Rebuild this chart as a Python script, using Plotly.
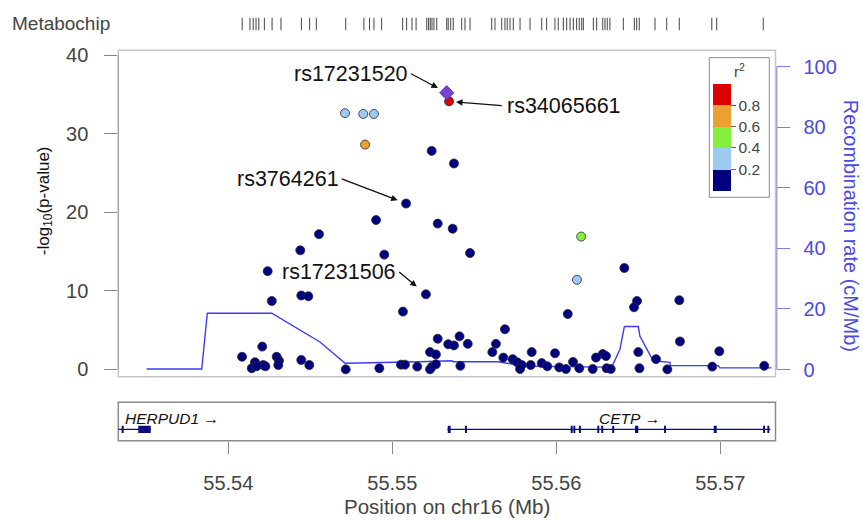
import plotly.graph_objects as go

W, H = 863, 520

# ---------------- data ----------------
# associated SNPs: position (Mb), -log10(p), LD r^2 with index SNP
snp_pos = [55.55240, 55.55376, 55.55084, 55.54901, 55.55277, 55.55368, 55.54553, 55.54439,
           55.54951, 55.55474, 55.54240, 55.56415, 55.55205, 55.54445, 55.54488, 55.54265,
           55.56492, 55.56474, 55.56750, 55.55065, 55.56070, 55.55687, 55.55277, 55.55410,
           55.55341, 55.55376, 55.55460, 55.55632, 55.56754, 55.54207, 55.55230, 55.55266,
           55.55610, 55.55850, 55.55992, 55.56283, 55.56303, 55.56242, 55.56500, 55.56994,
           55.56608, 55.54084, 55.54295, 55.54309, 55.54445, 55.54494, 55.54163, 55.54213,
           55.54143, 55.54173, 55.54226, 55.54305, 55.54716, 55.54921, 55.55053, 55.55077,
           55.55152, 55.55240, 55.55230, 55.55266, 55.55415, 55.55677, 55.55734, 55.55762,
           55.55789, 55.55779, 55.55844, 55.55911, 55.55945, 55.56018, 55.56059, 55.56102,
           55.56140, 55.56222, 55.56307, 55.56332, 55.56507, 55.56677, 55.56951, 55.57268,
           55.54712, 55.54823, 55.54888, 55.56126, 55.56152, 55.54834, 55.55346]
snp_logp = [27.8, 26.2, 21.1, 19.0, 18.55, 17.9, 17.2, 15.15,
            14.6, 14.8, 12.5, 12.9, 9.55, 9.4, 9.3, 8.7,
            8.7, 7.9, 8.8, 7.35, 7.05, 5.1, 3.9, 4.2,
            3.2, 3.05, 3.25, 3.25, 3.55, 2.9, 2.2, 1.9,
            2.2, 2.2, 2.05, 1.95, 1.7, 1.5, 2.2, 2.3,
            1.3, 1.6, 1.6, 1.1, 1.2, 0.55, 0.9, 0.55,
            0.15, 0.4, 0.4, 0.55, 0.0, 0.15, 0.6, 0.6,
            0.35, 0.3, 0.0, 0.65, 0.45, 1.5, 1.3, 0.9,
            0.55, 0.05, 0.55, 0.8, 0.4, 0.25, 0.05, 0.95,
            0.15, 0.05, 0.15, 0.05, 0.15, 0.0, 0.35, 0.45,
            32.6, 32.5, 32.5, 11.4, 16.9, 28.6, 34.1]
snp_r2 = [0.05] * 80 + [0.3, 0.3, 0.3, 0.3, 0.5, 0.7, 0.9]

# index SNP
index_pos = [55.55332]
index_logp = [35.2]

# recombination rate (cM/Mb)
rec_pos = [55.53502, 55.53838, 55.53872, 55.54265, 55.54559, 55.54712, 55.55169, 55.55362,
           55.55372, 55.55646, 55.55728, 55.55779, 55.56287, 55.56338, 55.56388, 55.56415,
           55.56500, 55.56510, 55.56591, 55.56693, 55.56695, 55.56988, 55.56998, 55.57313]
rec_rate = [0.2, 0.2, 18.6, 18.6, 9.1, 2.1, 2.6, 2.9,
            2.6, 2.6, 1.85, 1.2, 0.8, 0.8, 6.7, 14.2,
            14.2, 11.0, 2.9, 2.4, 1.3, 1.3, 0.55, 0.55]

# Metabochip SNP positions (rug)
rug_pos = [55.54085, 55.54132, 55.54152, 55.54169, 55.54186, 55.54220, 55.54267, 55.54321,
           55.54446, 55.54496, 55.54537, 55.54716, 55.54827, 55.54861, 55.54888, 55.54935,
           55.55063, 55.55087, 55.55120, 55.55145, 55.55210, 55.55221, 55.55232, 55.55242,
           55.55254, 55.55271, 55.55332, 55.55341, 55.55356, 55.55372, 55.55423, 55.55443,
           55.55474, 55.55606, 55.55626, 55.55667, 55.55687, 55.55701, 55.55718, 55.55738,
           55.55779, 55.55840, 55.55911, 55.55941, 55.55992, 55.56012, 55.56043, 55.56063,
           55.56084, 55.56104, 55.56124, 55.56140, 55.56155, 55.56165, 55.56226, 55.56246,
           55.56283, 55.56297, 55.56311, 55.56327, 55.56409, 55.56476, 55.56490, 55.56506,
           55.56602, 55.56673, 55.56750, 55.56948, 55.56978, 55.57262]

# genes
gene_names = ["HERPUD1", "CETP"]
gene_start = [55.53300, 55.55336]
gene_end = [55.53527, 55.57305]
gene_label_x = [55.53356, 55.56247]
exon_start = [55.53350, 55.53451,
              55.55338, 55.55443, 55.56088, 55.56104, 55.56138, 55.56250, 55.56274,
              55.56341, 55.56480, 55.56657, 55.56960, 55.57261, 55.57287]
exon_end = [55.53362, 55.53527,
            55.55356, 55.55455, 55.56100, 55.56116, 55.56150, 55.56262, 55.56286,
            55.56353, 55.56500, 55.56669, 55.56978, 55.57273, 55.57299]

# labelled SNPs
label_names = ["rs17231520", "rs34065661", "rs3764261", "rs17231506"]
label_pos = [index_pos[0], snp_pos[86], snp_pos[2], snp_pos[12]]
label_logp = [index_logp[0], snp_logp[86], snp_logp[2], snp_logp[12]]

x_ticks = [55.54, 55.55, 55.56, 55.57]
y_ticks = [0, 10, 20, 30, 40]
rec_ticks = [0, 20, 40, 60, 80, 100]
r2_ticks = [0.2, 0.4, 0.6, 0.8]
r2_colors = ["#000080", "#9dcaf0", "#86ef3c", "#eca031", "#dd0000"]

# ---------------- style helpers ----------------
FONT = "Liberation Sans, Arial, Helvetica, sans-serif"
GREY_TXT = "#444444"
BLUE_TXT = "#4b4bdc"
BLUE_TICK = "#7d7de8"
BLUE_LINE = "#3c3cf2"
NAVY = "#0c0c80"


def fx(p):
    return p / W


def fy(p):
    return 1 - p / H


cs = []
for i, c in enumerate(r2_colors):
    cs.append([i / 5, c])
    cs.append([(i + 1) / 5, c])

fig = go.Figure()

# recombination line (base subplot, below points)
fig.add_trace(go.Scatter(x=rec_pos, y=rec_rate, xaxis="x", yaxis="y2", mode="lines",
                         line=dict(color=BLUE_LINE, width=1.4), hoverinfo="skip",
                         showlegend=False))

# gene lines
for s, e in zip(gene_start, gene_end):
    fig.add_trace(go.Scatter(x=[s, e], y=[0, 0], xaxis="x", yaxis="y3", mode="lines",
                             line=dict(color=NAVY, width=1.2), hoverinfo="skip",
                             showlegend=False))

# rug
rx, ry = [], []
for p in rug_pos:
    rx += [p, p, None]
    ry += [0, 1, None]
fig.add_trace(go.Scatter(x=rx, y=ry, xaxis="x", yaxis="y4", mode="lines",
                         line=dict(color="#555555", width=1.1), hoverinfo="skip",
                         showlegend=False))

# SNPs
fig.add_trace(go.Scatter(
    x=snp_pos, y=snp_logp, xaxis="x", yaxis="y", mode="markers", showlegend=False,
    marker=dict(size=9, color=snp_r2, colorscale=cs, cmin=0, cmax=1,
                line=dict(color="#2a2a3a", width=0.8),
                showscale=True,
                colorbar=dict(x=fx(712.7), xanchor="left", y=fy(79.3), yanchor="top",
                              len=107.4, lenmode="pixels", thickness=18,
                              thicknessmode="pixels", xpad=0, ypad=0, outlinewidth=0,
                              tickvals=r2_ticks, ticktext=[f"{t:.1f}" for t in r2_ticks],
                              ticks="outside", ticklen=5, tickcolor="#666",
                              tickfont=dict(size=15.5, color=GREY_TXT, family=FONT),
                              borderwidth=0, bgcolor="rgba(0,0,0,0)"))))

# index SNP
fig.add_trace(go.Scatter(x=index_pos, y=index_logp, xaxis="x", yaxis="y", mode="markers",
                         showlegend=False,
                         marker=dict(symbol="diamond", size=11, color="#7b40d6",
                                     line=dict(color="#4d2a90", width=0.8))))

shapes = []
# main box
shapes.append(dict(type="rect", xref="x domain", yref="y2 domain", x0=0, x1=1, y0=0, y1=1,
                   line=dict(color="#c6c6c6", width=1.5), layer="below"))
# left axis line
shapes.append(dict(type="line", xref="x domain", yref="y", x0=0, x1=0, y0=0, y1=40,
                   line=dict(color="#9a9a9a", width=1)))
# right axis line
shapes.append(dict(type="line", xref="x domain", yref="y2", x0=1.002, x1=1.002, y0=0, y1=100,
                   line=dict(color=BLUE_TICK, width=1)))
# gene box
shapes.append(dict(type="rect", xref="x domain", yref="y3 domain", x0=0, x1=1, y0=0, y1=1,
                   line=dict(color="#8a8a8a", width=1.5), layer="below"))
# exons
for s, e in zip(exon_start, exon_end):
    shapes.append(dict(type="rect", xref="x", yref="y3", x0=s, x1=e, y0=-0.38, y1=0.38,
                       fillcolor=NAVY, line=dict(width=0)))
# legend box
shapes.append(dict(type="rect", xref="paper", yref="paper", x0=fx(709.3), x1=fx(769.3),
                   y0=fy(195), y1=fy(52.7), fillcolor="white",
                   line=dict(color="#8a8a8a", width=1), layer="below"))

annotations = []
# SNP labels with arrows: tail offset (px), text anchor side, padding, standoff
arr_style = [(-35.7, -19, "right", 2, 10), (52.7, 4.3, "left", 4, 7),
             (-64.3, -24.6, "right", 2, 9), (-26.7, -22.3, "right", 2, 12)]
for name, xp, yp, (ax, ay, anc, pad, so) in zip(label_names, label_pos, label_logp,
                                                 arr_style):
    annotations.append(dict(x=xp, y=yp, xref="x", yref="y", text=name, showarrow=True,
                            ax=ax, ay=ay, xanchor=anc, yanchor="middle", borderpad=pad,
                            arrowhead=2, arrowsize=1, arrowwidth=1.3,
                            arrowcolor="#111", standoff=so,
                            font=dict(size=21.5, color="#111", family=FONT)))
# gene labels
for name, gx in zip(gene_names, gene_label_x):
    annotations.append(dict(x=gx, y=1.1, xref="x", yref="y3", xanchor="left",
                            text=f"<i>{name}</i> \u2192", showarrow=False,
                            font=dict(size=15.5, color="#111", family=FONT)))
# texts
annotations.append(dict(x=fx(10), y=fy(18), xref="paper", yref="paper", xanchor="left",
                        yanchor="middle", text="Metabochip", showarrow=False,
                        font=dict(size=19, color=GREY_TXT, family=FONT)))
annotations.append(dict(x=fx(45), y=fy(199), xref="paper", yref="paper", xanchor="center",
                        yanchor="middle", text="-log<sub>10</sub>(p-value)", textangle=-90,
                        showarrow=False, font=dict(size=17, color="#111", family=FONT)))
annotations.append(dict(x=fx(851), y=fy(224), xref="paper", yref="paper", xanchor="center",
                        yanchor="middle", text="Recombination rate (cM/Mb)", textangle=90,
                        showarrow=False, font=dict(size=20, color=BLUE_TXT, family=FONT)))
annotations.append(dict(x=fx(447), y=fy(510), xref="paper", yref="paper", xanchor="center",
                        yanchor="middle", text="Position on chr16 (Mb)",
                        showarrow=False, font=dict(size=20.5, color=GREY_TXT, family=FONT)))
annotations.append(dict(x=fx(739), y=fy(66), xref="paper", yref="paper", xanchor="center",
                        yanchor="middle", text="r<sup>2</sup>",
                        showarrow=False, font=dict(size=15, color=GREY_TXT, family=FONT)))

fig.update_layout(
    width=W, height=H, margin=dict(l=0, r=0, t=0, b=0),
    paper_bgcolor="white", plot_bgcolor="white",
    font=dict(family=FONT, color=GREY_TXT),
    showlegend=False,
    xaxis=dict(domain=[fx(118.3), fx(775.5)], range=[55.533293, 55.573366], anchor="y3",
               tickvals=x_ticks, ticktext=[f"{t:.2f}" for t in x_ticks],
               ticks="outside", ticklen=12, tickcolor="#888", tickwidth=1,
               ticklabelstandoff=12,
               tickfont=dict(size=20, color=GREY_TXT, family=FONT),
               showgrid=False, zeroline=False, showline=False),
    yaxis2=dict(domain=[fy(378), fy(45)], range=[-2.36, 105.4], side="right", anchor="x",
                tickvals=rec_ticks, ticks="outside", ticklen=13, tickcolor=BLUE_TICK,
                ticklabelstandoff=10,
                tickfont=dict(size=20, color=BLUE_TXT, family=FONT),
                showgrid=False, zeroline=False, showline=False),
    yaxis=dict(overlaying="y2", side="left", anchor="x", range=[-0.936, 40.62],
               tickvals=y_ticks, ticks="outside", ticklen=13, tickcolor="#888",
               ticklabelstandoff=12,
               tickfont=dict(size=20, color=GREY_TXT, family=FONT),
               showgrid=False, zeroline=False, showline=False),
    yaxis3=dict(domain=[fy(443.3), fy(404)], range=[-1.16, 2.77], anchor="x", visible=False),
    yaxis4=dict(domain=[fy(25), fy(11.7)], range=[0, 1], anchor="x", visible=False),
    shapes=shapes,
    annotations=annotations,
)

fig.write_html("out.html",
               config={"displayModeBar": False},
               post_script="document.body.style.margin='0px';"
                           "document.body.style.padding='0px';"
                           "document.body.style.overflow='hidden';")
